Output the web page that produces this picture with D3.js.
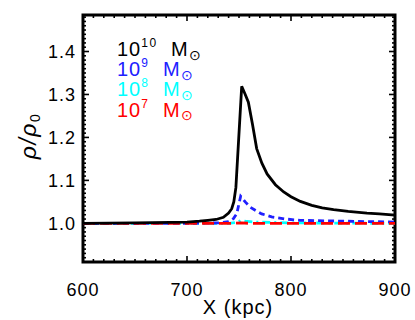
<!DOCTYPE html>
<html>
<head>
<meta charset="utf-8">
<script src="https://cdn.jsdelivr.net/npm/d3@7"></script>
<style>
  body { margin: 0; background: #fff; }
  text { font-family: "Liberation Sans", Arial, sans-serif; }
</style>
</head>
<body>
<div id="vis"></div>
<script>
var width = 415,
    height = 320,
    margin = {left: 83, right: 20, top: 15, bottom: 58};

// x positions (kpc) and density ratio for each mass
var xBlack = [600, 650, 700, 712, 720, 728, 735, 740, 743, 745, 747, 752.6, 756, 759, 763, 767, 772, 777, 785, 793, 800, 809, 820, 830, 841, 855, 873, 885, 900];
var rhoBlack = [1.0, 1.001, 1.003, 1.005, 1.007, 1.009, 1.014, 1.024, 1.034, 1.05, 1.083, 1.319, 1.3, 1.282, 1.23, 1.174, 1.14, 1.115, 1.09, 1.073, 1.062, 1.051, 1.042, 1.036, 1.032, 1.028, 1.024, 1.022, 1.019];

var xBlue = [600, 700, 730, 740, 744.6, 747.8, 751.6, 756, 760.6, 766, 771.8, 781.4, 795, 808.7, 850, 900];
var rhoBlue = [1.0, 1.0, 1.001, 1.004, 1.011, 1.022, 1.063, 1.05, 1.038, 1.03, 1.022, 1.015, 1.01, 1.007, 1.005, 1.003];

var xCyan = [600, 740, 748, 752, 756, 765, 800, 900];
var rhoCyan = [1.0, 1.0, 1.002, 1.007, 1.005, 1.003, 1.001, 1.0];

var xRed = [600, 745, 752, 760, 900];
var rhoRed = [1.0, 1.0, 1.001, 1.0, 1.0];

var xTicks = [600, 700, 800, 900];
var yTicks = [1.0, 1.1, 1.2, 1.3, 1.4];

var legendExp = ["10", "9", "8", "7"];
var legendColors = ["#000000", "#2020ff", "#00ffff", "#ff0000"];

var svg = d3.select("#vis").append("svg")
    .attr("width", width)
    .attr("height", height);

var x = d3.scaleLinear().domain([600, 900]).range([margin.left, width - margin.right]);
var y = d3.scaleLinear().domain([0.91, 1.485]).range([height - margin.bottom, margin.top]);

// minor + major ticks, drawn inward on all four sides
var frame = svg.append("g");
var x0 = x.range()[0], x1 = x.range()[1], y0 = y.range()[0], y1 = y.range()[1];

d3.range(600, 901, 10).forEach(function(v) {
  var major = v % 100 === 0, len = major ? 6 : 3;
  frame.append("line").attr("x1", x(v)).attr("x2", x(v)).attr("y1", y0).attr("y2", y0 - len);
  frame.append("line").attr("x1", x(v)).attr("x2", x(v)).attr("y1", y1).attr("y2", y1 + len);
});
d3.range(91, 149).forEach(function(i) {
  var v = i / 100, major = i % 10 === 0, len = major ? 6 : 3;
  frame.append("line").attr("x1", x0).attr("x2", x0 + len).attr("y1", y(v)).attr("y2", y(v));
  frame.append("line").attr("x1", x1).attr("x2", x1 - len).attr("y1", y(v)).attr("y2", y(v));
});
frame.selectAll("line").attr("stroke", "#000").attr("stroke-width", 1.6);

frame.append("rect")
    .attr("x", x0).attr("y", y1)
    .attr("width", x1 - x0).attr("height", y0 - y1)
    .attr("fill", "none").attr("stroke", "#000").attr("stroke-width", 3);

// tick labels
svg.selectAll(".xlab").data(xTicks).enter().append("text")
    .attr("x", function(d) { return x(d); })
    .attr("y", 296)
    .attr("text-anchor", "middle")
    .attr("font-size", 18)
    .attr("letter-spacing", 1)
    .text(function(d) { return d; });

svg.selectAll(".ylab").data(yTicks).enter().append("text")
    .attr("x", 76)
    .attr("y", function(d) { return y(d) + 6.5; })
    .attr("text-anchor", "end")
    .attr("font-size", 18)
    .attr("letter-spacing", 1)
    .text(function(d) { return d.toFixed(1); });

svg.append("text")
    .attr("x", 238).attr("y", 314)
    .attr("text-anchor", "middle")
    .attr("font-size", 20)
    .attr("letter-spacing", 1)
    .text("X (kpc)");

var ylab = svg.append("text")
    .attr("transform", "translate(36,136) rotate(-90)")
    .attr("text-anchor", "middle")
    .attr("font-size", 23)
    .attr("font-style", "italic")
    .attr("letter-spacing", 1.5);
ylab.append("tspan").text("ρ/ρ");
ylab.append("tspan").attr("font-size", 14).attr("font-style", "normal").attr("dy", 4).text("0");

// curves
var line = d3.line()
    .x(function(d) { return x(d[0]); })
    .y(function(d) { return y(d[1]); });

function series(xs, ys, color, dash) {
  svg.append("path")
      .datum(d3.zip(xs, ys))
      .attr("d", line)
      .attr("fill", "none")
      .attr("stroke", color)
      .attr("stroke-width", 2.8)
      .attr("stroke-dasharray", dash);
}
series(xCyan, rhoCyan, legendColors[2], "8,4,2,4");
series(xBlue, rhoBlue, legendColors[1], "6,4");
series(xRed, rhoRed, legendColors[3], "12,5");
series(xBlack, rhoBlack, legendColors[0], null);

// legend
var legend = svg.append("g");
legendExp.forEach(function(e, i) {
  var base = 56 + i * 20.2;
  var t = legend.append("text")
      .attr("y", base)
      .attr("font-size", 20)
      .attr("letter-spacing", 1)
      .attr("fill", legendColors[i]);
  t.append("tspan").attr("x", 117).text("10");
  t.append("tspan").attr("font-size", 12).attr("letter-spacing", 1.5).attr("dy", -9).text(e);
  t.append("tspan").attr("x", i === 0 ? 171 : 163).attr("y", base).text("M");
  t.append("tspan").attr("font-size", 14).attr("dy", 3.5).text("\u2299");
});
</script>
</body>
</html>
